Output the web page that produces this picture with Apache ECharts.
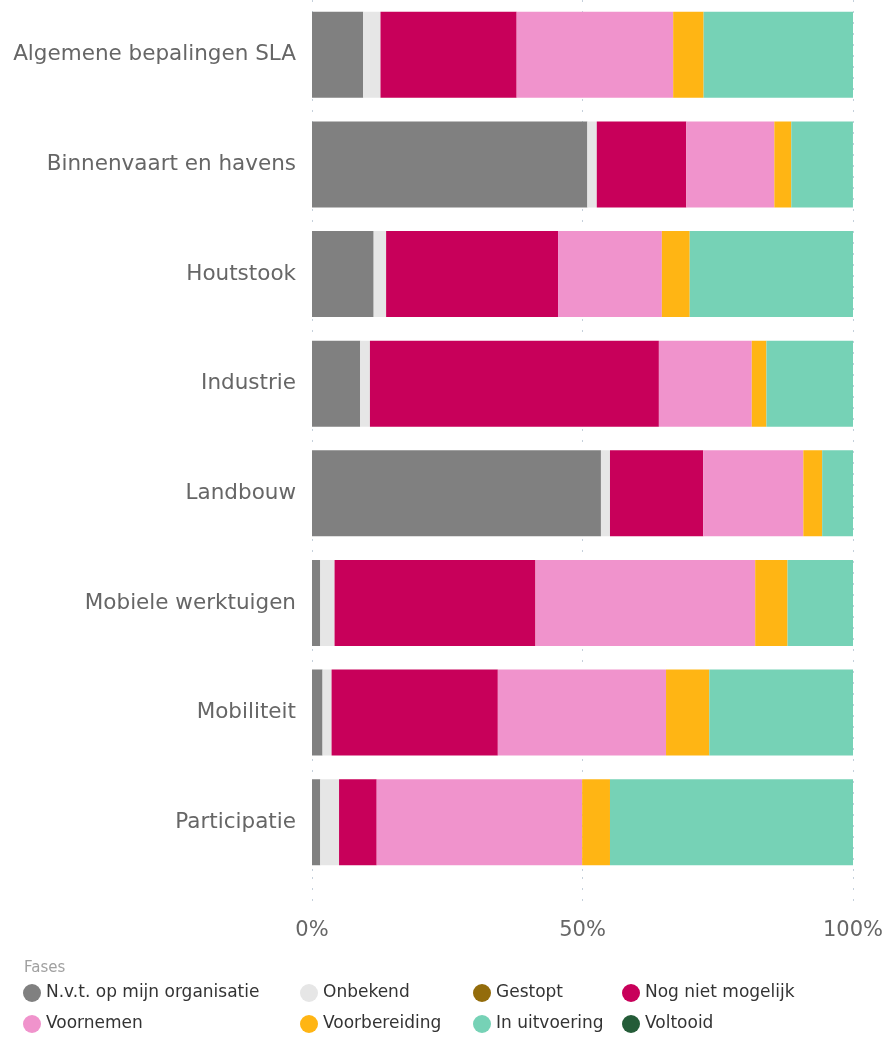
<!DOCTYPE html>
<html>
<head>
<meta charset="utf-8">
<script src="https://cdn.jsdelivr.net/npm/echarts@6/dist/echarts.min.js"></script>
<style>
html,body{margin:0;padding:0;background:#fff;}
#chart{width:890px;height:1039px;}
</style>
</head>
<body>
<div id="chart"></div>
<script>
const categories = ['Algemene bepalingen SLA','Binnenvaart en havens','Houtstook','Industrie','Landbouw','Mobiele werktuigen','Mobiliteit','Participatie'];
const seriesNames = ['N.v.t. op mijn organisatie','Onbekend','Gestopt','Nog niet mogelijk','Voornemen','Voorbereiding','In uitvoering','Voltooid'];
const nvt = [9.46, 50.9, 11.4, 8.9, 53.41, 1.53, 1.95, 1.53];
const onbekend = [3.2, 1.74, 2.3, 1.81, 1.67, 2.64, 1.67, 3.47];
const gestopt = [0, 0, 0, 0, 0, 0, 0, 0];
const nogNietMogelijk = [25.17, 16.55, 31.78, 53.41, 17.24, 37.14, 30.73, 6.96];
const voornemen = [28.93, 16.27, 19.19, 17.17, 18.5, 40.61, 31.09, 37.97];
const voorbereiding = [5.63, 3.13, 5.15, 2.71, 3.48, 5.98, 8.0, 5.15];
const inUitvoering = [27.61, 11.4, 30.18, 16.0, 5.7, 12.1, 26.56, 44.92];
const voltooid = [0, 0, 0, 0, 0, 0, 0, 0];
const xTicks = [0, 50, 100];

const values = [nvt, onbekend, gestopt, nogNietMogelijk, voornemen, voorbereiding, inUitvoering, voltooid];
const colors = ['#808080','#e6e6e6','#936c0b','#c8005a','#f093cc','#ffb514','#76d2b6','#245c38'];

const chart = echarts.init(document.getElementById('chart'), null, {renderer:'canvas'});
const dotted = {show:true, lineStyle:{color:'#c5d0db', width:1, type:[2,9]}};
const legendCols = [[0,4],[1,5],[2,6],[3,7]];
const legendLefts = [23, 300, 473, 622];

const option = {
  animation:false,
  title:{text:'Fases', left:24, top:961, padding:0, textStyle:{fontFamily:'DejaVu Sans', fontSize:15, fontWeight:'normal', color:'#a0a0a0'}},
  legend: legendCols.map((c,i)=>({
    orient:'vertical', left:legendLefts[i], top:984, padding:0, itemWidth:18, itemHeight:18, itemGap:13,
    icon:'circle', data:c.map(k=>seriesNames[k]),
    textStyle:{fontFamily:'DejaVu Sans', fontSize:17, color:'#333333'}, selectedMode:false
  })),
  grid:[
    {left:312, right:37, top:0, height:877},
    {left:312, right:37, top:877, height:33}
  ],
  xAxis:[
    {gridIndex:0, type:'value', min:0, max:100, interval:50, axisLabel:{show:false}, axisLine:{show:false}, axisTick:{show:false}, splitLine:dotted},
    {gridIndex:1, type:'value', min:0, max:100, interval:50, axisLine:{show:false}, axisTick:{show:false}, splitLine:dotted,
     axisLabel:{margin:10, fontFamily:'DejaVu Sans', fontSize:21, color:'#666666', formatter:v=>xTicks.includes(v)?v+'%':''}}
  ],
  yAxis:[
    {gridIndex:0, type:'category', data:categories, inverse:true, axisLine:{show:false}, axisTick:{show:false},
     axisLabel:{margin:16, fontFamily:'DejaVu Sans', fontSize:21.5, color:'#666666'}},
    {gridIndex:1, type:'category', data:[''], axisLine:{show:false}, axisTick:{show:false}, axisLabel:{show:false}}
  ],
  series: seriesNames.map((n,i)=>({
    name:n, type:'bar', stack:'total', xAxisIndex:0, yAxisIndex:0, barWidth:86,
    itemStyle:{color:colors[i]}, data:values[i]
  }))
};
chart.setOption(option);
</script>
</body>
</html>
